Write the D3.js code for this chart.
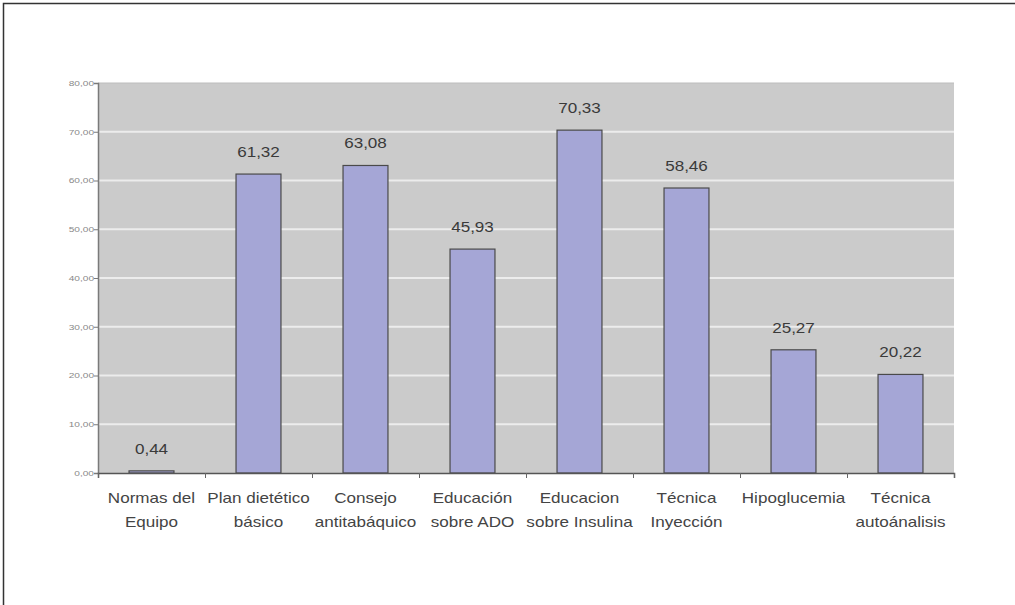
<!DOCTYPE html>
<html>
<head>
<meta charset="utf-8">
<script src="https://cdn.jsdelivr.net/npm/d3@7"></script>
<style>
  html, body { margin: 0; padding: 0; background: #fff; }
  svg { display: block; }
</style>
</head>
<body>
<svg id="chart" width="1015" height="605"></svg>
<script>
// Categories (two-line labels) and their percentages
const categories = [
  ["Normas del", "Equipo"],
  ["Plan dietético", "básico"],
  ["Consejo", "antitabáquico"],
  ["Educación", "sobre ADO"],
  ["Educacion", "sobre Insulina"],
  ["Técnica", "Inyección"],
  ["Hipoglucemia", ""],
  ["Técnica", "autoánalisis"]
];
const values = [0.44, 61.32, 63.08, 45.93, 70.33, 58.46, 25.27, 20.22];
const yTicks = [0, 10, 20, 30, 40, 50, 60, 70, 80];

const fmt = (v, d) => v.toFixed(d).replace(".", ",");
const FONT = "Liberation Sans, Arial, sans-serif";
const STRETCH = 1.22; // text is drawn slightly wide

const svg = d3.select("#chart");

// outer frame
svg.append("rect")
  .attr("x", 3.5).attr("y", 3.5)
  .attr("width", 1030).attr("height", 620)
  .attr("fill", "none").attr("stroke", "#333").attr("stroke-width", 1.5);

const plot = { left: 98, right: 954, top: 83, bottom: 473 };
const keys = categories.map((c, i) => i);

const x = d3.scaleBand()
  .domain(keys)
  .range([plot.left, plot.right])
  .paddingInner(0.58).paddingOuter(0.29);

const xOuter = d3.scaleBand().domain(keys).range([plot.left, plot.right]);

const y = d3.scaleLinear().domain([0, 80]).range([plot.bottom, plot.top]);

const g = svg.append("g");

// plot background
g.append("rect")
  .attr("x", plot.left).attr("y", plot.top)
  .attr("width", plot.right - plot.left).attr("height", plot.bottom - plot.top)
  .attr("fill", "#cbcbcb");

// gridlines
g.selectAll("line.grid")
  .data(yTicks.filter(t => t > 0 && t < 80))
  .join("line")
  .attr("class", "grid")
  .attr("x1", plot.left).attr("x2", plot.right)
  .attr("y1", d => y(d)).attr("y2", d => y(d))
  .attr("stroke", "#ececec").attr("stroke-width", 2);

// top edge of plot area
g.append("line")
  .attr("x1", plot.left).attr("x2", plot.right)
  .attr("y1", plot.top).attr("y2", plot.top)
  .attr("stroke", "#bdbdbd").attr("stroke-width", 1);

// bars
g.selectAll("rect.bar")
  .data(values)
  .join("rect")
  .attr("class", "bar")
  .attr("x", (d, i) => x(i))
  .attr("width", x.bandwidth())
  .attr("y", d => y(d))
  .attr("height", d => y(0) - y(d))
  .attr("fill", "#a5a6d6")
  .attr("stroke", "#4a4a4a").attr("stroke-width", 1.2);

// value labels
g.selectAll("text.val")
  .data(values)
  .join("text")
  .attr("class", "val")
  .attr("transform", (d, i) =>
    `translate(${x(i) + x.bandwidth() / 2},${y(d) - 17}) scale(${STRETCH},1)`)
  .attr("text-anchor", "middle")
  .attr("font-family", FONT)
  .attr("font-size", 14)
  .attr("fill", "#3a3a3a")
  .text(d => fmt(d, 2));

// y axis
const yAxis = d3.axisLeft(y)
  .tickValues(yTicks)
  .tickSize(4)
  .tickFormat(d => fmt(d, 2));
const ya = svg.append("g")
  .attr("transform", `translate(${plot.left},0)`)
  .call(yAxis);
ya.select(".domain").attr("stroke", "#7a7a7a").attr("stroke-width", 1.5);
ya.selectAll(".tick line").attr("stroke", "#7a7a7a");
ya.selectAll(".tick text")
  .attr("font-family", FONT)
  .attr("font-size", 7.5)
  .attr("fill", "#888")
  .attr("x", 0)
  .attr("transform", `translate(-4,0) scale(1.35,1)`);

// x axis baseline and ticks at category boundaries
const xa = svg.append("g")
  .attr("transform", `translate(0,${plot.bottom})`)
  .call(d3.axisBottom(d3.scaleLinear().domain([0, categories.length]).range([plot.left, plot.right]))
    .ticks(categories.length).tickSize(5).tickFormat(""));
xa.select(".domain").attr("stroke", "#555").attr("stroke-width", 1.5);
xa.selectAll(".tick line").attr("stroke", "#666");

// category labels
const lab = svg.append("g")
  .attr("font-family", FONT)
  .attr("font-size", 14)
  .attr("fill", "#444")
  .attr("text-anchor", "middle");
categories.forEach((c, i) => {
  const cx = xOuter(i) + xOuter.bandwidth() / 2;
  c.forEach((line, k) => {
    if (!line) return;
    lab.append("text")
      .attr("transform", `translate(${cx},${503 + k * 24}) scale(${STRETCH},1)`)
      .text(line);
  });
});
</script>
</body>
</html>
